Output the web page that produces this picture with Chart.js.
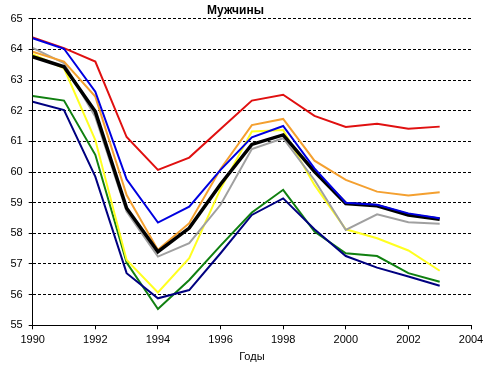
<!DOCTYPE html>
<html>
<head>
<meta charset="utf-8">
<script src="https://cdn.jsdelivr.net/npm/chart.js@4/dist/chart.umd.min.js"></script>
<style>
  body { margin: 0; background: #fff; }
</style>
</head>
<body>
<canvas id="chart" width="493" height="372"></canvas>
<script>
// years on the x axis
const years = [1990, 1991, 1992, 1993, 1994, 1995, 1996, 1997, 1998, 1999, 2000, 2001, 2002, 2003];

// series values
const redVals    = [64.39, 64.04, 63.60, 61.14, 60.07, 60.47, 61.40, 62.33, 62.52, 61.83, 61.47, 61.57, 61.41, 61.48];
const blueVals   = [64.36, 64.02, 62.62, 59.76, 58.35, 58.87, 60.07, 61.13, 61.50, 60.12, 59.00, 58.93, 58.65, 58.49];
const orangeVals = [63.92, 63.60, 62.46, 59.25, 57.46, 58.33, 60.10, 61.53, 61.73, 60.37, 59.74, 59.36, 59.23, 59.34];
const blackVals  = [63.76, 63.43, 61.97, 58.82, 57.40, 58.17, 59.60, 60.90, 61.21, 60.01, 58.97, 58.90, 58.60, 58.46];
const grayVals   = [64.05, 63.55, 61.80, 58.71, 57.24, 57.68, 58.93, 60.75, 61.10, 59.74, 58.11, 58.62, 58.36, 58.31];
const yellowVals = [63.84, 63.38, 61.04, 57.13, 56.07, 57.19, 59.45, 61.32, 61.37, 59.58, 58.13, 57.84, 57.44, 56.78];
const greenVals  = [62.48, 62.33, 60.56, 57.05, 55.53, 56.48, 57.60, 58.68, 59.42, 58.06, 57.35, 57.26, 56.70, 56.42];
const navyVals   = [62.29, 62.02, 59.85, 56.70, 55.88, 56.15, 57.35, 58.60, 59.14, 58.13, 57.26, 56.88, 56.59, 56.29];

const toPoints = vals => years.map((x, i) => ({ x: x, y: vals[i] }));

// first dataset ends up on top
function line(vals, color, width) {
    return {
        data: toPoints(vals),
        borderColor: color,
        borderWidth: width,
        pointRadius: 0,
        tension: 0,
        fill: false
    };
}

const ctx = document.getElementById('chart').getContext('2d');
new Chart(ctx, {
    type: 'line',
    data: {
        datasets: [
            line(blueVals, '#0000e0', 2),
            line(blackVals, '#000000', 3.5),
            line(redVals, '#e01010', 2),
            line(orangeVals, '#f4a030', 2),
            line(grayVals, '#a0a0a0', 2),
            line(yellowVals, '#ffff20', 2),
            line(navyVals, '#000080', 2),
            line(greenVals, '#108010', 2)
        ]
    },
    options: {
        responsive: false,
        animation: false,
        layout: { padding: { left: 0, right: 22, top: 0, bottom: 0 } },
        plugins: {
            legend: { display: false },
            tooltip: { enabled: false },
            title: {
                display: true,
                text: 'Мужчины',
                color: '#000',
                font: { family: 'Liberation Sans, Arial', size: 12, weight: 'bold' },
                padding: { top: 3, bottom: 1.3 }
            }
        },
        scales: {
            x: {
                type: 'linear',
                min: 1990,
                max: 2004,
                ticks: {
                    stepSize: 2,
                    color: '#000',
                    font: { family: 'Liberation Sans, Arial', size: 11 },
                    padding: 4,
                    callback: v => String(v)
                },
                grid: { drawOnChartArea: false, tickLength: 4, color: '#000' },
                border: { color: '#000', width: 1 },
                title: {
                    display: true,
                    text: 'Годы',
                    color: '#000',
                    font: { family: 'Liberation Sans, Arial', size: 11 },
                    padding: { top: 0, bottom: 8 }
                },
                afterFit: s => { s.height = 46.7; }
            },
            y: {
                min: 55,
                max: 65,
                ticks: {
                    stepSize: 1,
                    color: '#000',
                    font: { family: 'Liberation Sans, Arial', size: 11 },
                    padding: 6
                },
                grid: {
                    color: '#000',
                    lineWidth: 1,
                    tickLength: 4,
                    tickBorderDash: []
                },
                border: { color: '#000', width: 1, dash: [3, 2] },
                afterFit: s => { s.width = 32.7; }
            }
        }
    }
});
</script>
</body>
</html>
